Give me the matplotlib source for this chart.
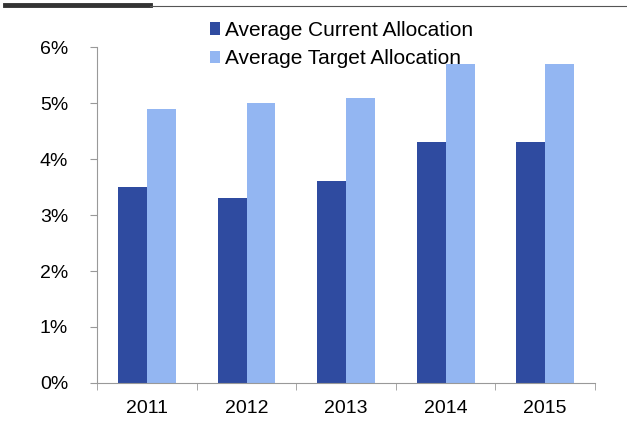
import numpy as np
import matplotlib
matplotlib.use("Agg")
import matplotlib.pyplot as plt
from matplotlib.ticker import FuncFormatter

plt.rcParams['font.family'] = ['Liberation Sans', 'DejaVu Sans']

years = ['2011', '2012', '2013', '2014', '2015']
current = [3.5, 3.3, 3.6, 4.3, 4.3]
target = [4.9, 5.0, 5.1, 5.7, 5.7]

dark = '#2f4ba0'
light = '#93b6f2'

fig = plt.figure(figsize=(6.27, 4.25), dpi=100)
ax = fig.add_axes([0.155, 0.099, 0.794, 0.79])

x = np.arange(len(years))
w = 0.29
ax.bar(x - w / 2, current, w, color=dark, label='Average Current Allocation')
ax.bar(x + w / 2, target, w, color=light, label='Average Target Allocation')

ax.set_xlim(-0.5, len(years) - 0.5)
ax.set_ylim(0, 6)
ax.set_yticks(range(7))
ax.yaxis.set_major_formatter(FuncFormatter(lambda v, p: '%d%%' % v))
ax.set_xticks(x)
ax.set_xticklabels(years)
ax.set_xticks(np.arange(-0.5, len(years)), minor=True)
ax.tick_params(axis='x', which='major', length=0, pad=12, labelsize=14)
ax.tick_params(axis='x', which='minor', length=5, color='#999999', direction='out')
ax.tick_params(axis='y', length=5, color='#999999', pad=16, labelsize=14)

for s in ['top', 'right']:
  ax.spines[s].set_visible(False)
for s in ['left', 'bottom']:
  ax.spines[s].set_color('#999999')

leg = fig.legend(loc='upper left', bbox_to_anchor=(0.322, 0.97), frameon=False,
                 fontsize=15, handlelength=0.45, handleheight=0.55,
                 handletextpad=0.25, labelspacing=0.45, borderaxespad=0)

# header rule across the top
fig.add_artist(plt.Line2D([0.008, 0.24], [0.988, 0.988], color='#333333', lw=3.5))
fig.add_artist(plt.Line2D([0.24, 1.0], [0.985, 0.985], color='#555555', lw=0.8))

fig.savefig('out.png', dpi=100)
